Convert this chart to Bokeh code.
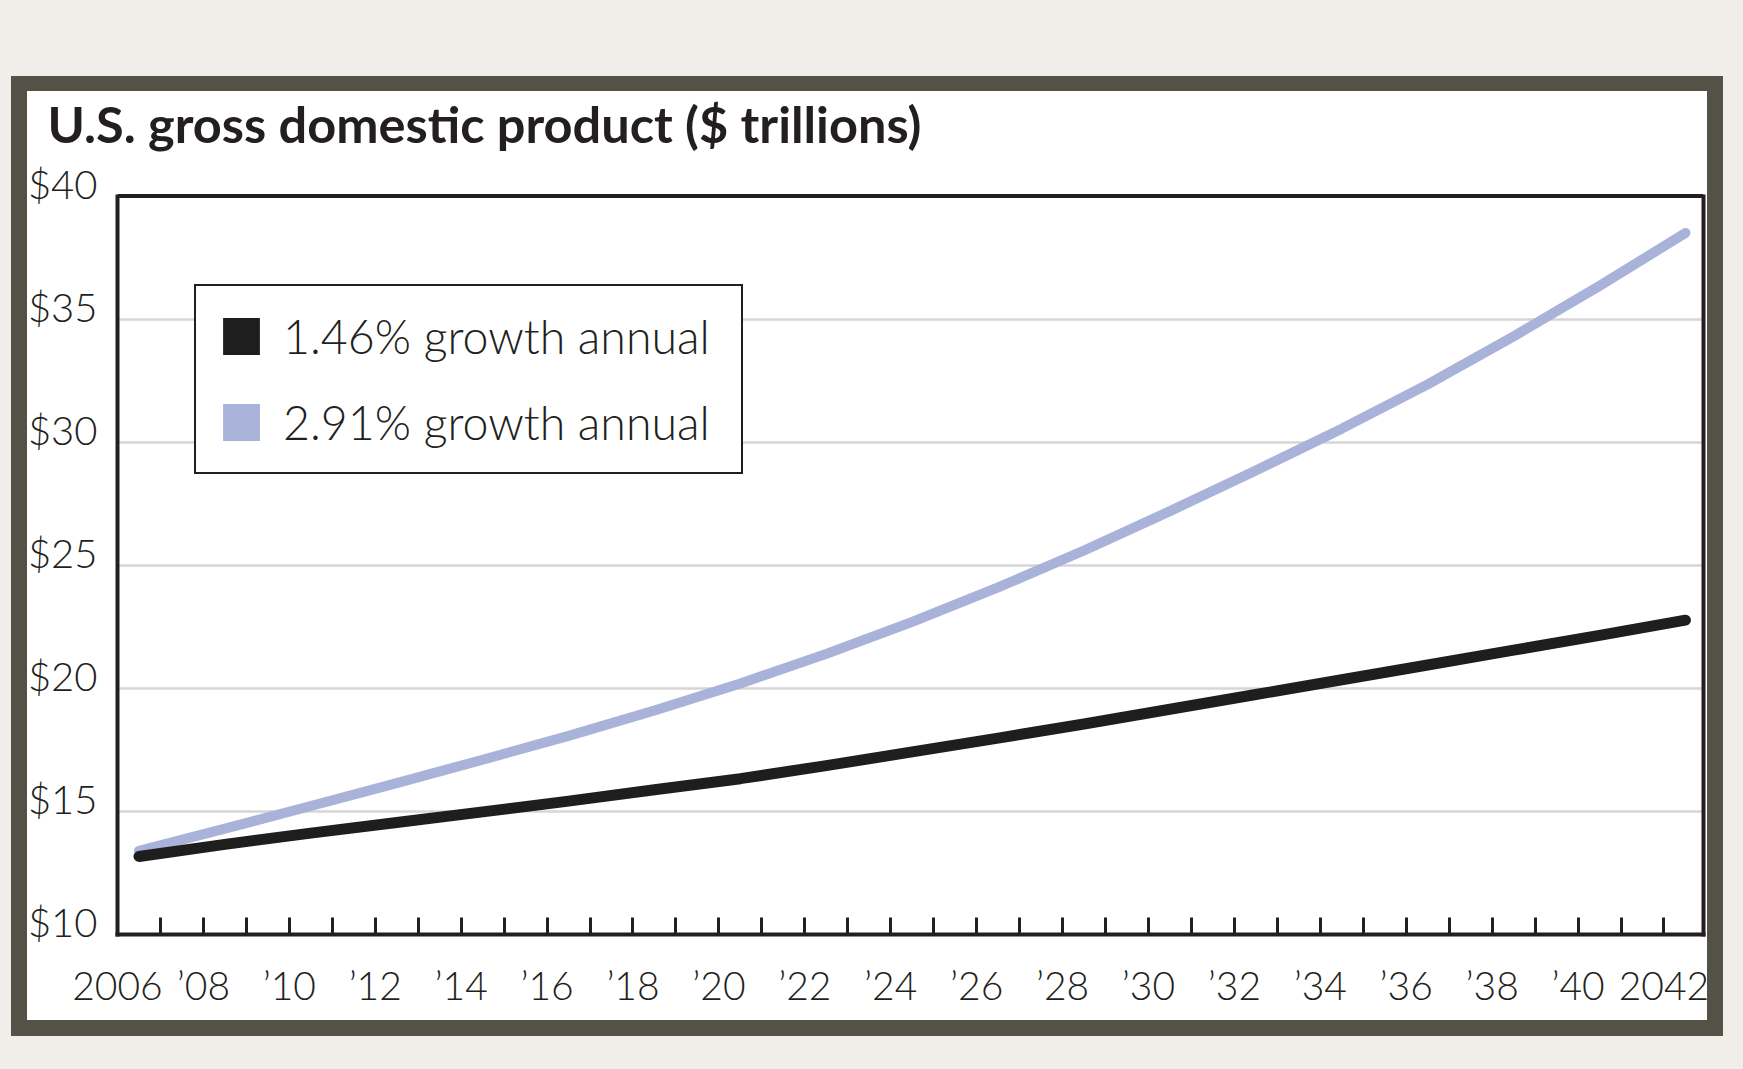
from bokeh.plotting import figure
from bokeh.models import (Range1d, LinearAxis, FixedTicker, CustomJSTickFormatter,
                          PrintfTickFormatter, Span, Legend, LegendItem)
from bokeh.embed import file_html
from bokeh.resources import INLINE

# ---------------- data ----------------
years = [2006, 2008, 2010, 2012, 2014, 2016, 2018, 2020, 2022, 2024,
         2026, 2028, 2030, 2032, 2034, 2036, 2038, 2040, 2042]
gdp_146 = [13.17, 13.66, 14.12, 14.55, 14.98, 15.42, 15.88, 16.33, 16.86, 17.42,
           17.98, 18.55, 19.15, 19.75, 20.35, 20.95, 21.55, 22.15, 22.77]
gdp_291 = [13.40, 14.30, 15.22, 16.15, 17.10, 18.07, 19.10, 20.20, 21.40, 22.70,
           24.10, 25.60, 27.20, 28.85, 30.55, 32.35, 34.30, 36.35, 38.50]
series_labels = ["1.46% growth annual", "2.91% growth annual"]
title_text = "U.S. gross domestic product ($ trillions)"

x_label_years = [2006, 2008, 2010, 2012, 2014, 2016, 2018, 2020, 2022, 2024,
                 2026, 2028, 2030, 2032, 2034, 2036, 2038, 2040, 2042]
x_tick_labels = ["2006", "\u201908", "\u201910", "\u201912", "\u201914", "\u201916",
                 "\u201918", "\u201920", "\u201922", "\u201924", "\u201926", "\u201928",
                 "\u201930", "\u201932", "\u201934", "\u201936", "\u201938", "\u201940", "2042"]
tick_years = list(range(2006, 2042))
y_tick_values = [10, 15, 20, 25, 30, 35, 40]
y_grid_values = [15, 20, 25, 30, 35]

# ---------------- style ----------------
TEXT = "#231f20"
BLACK_LINE = "#1e1e1e"
LAVENDER = "#a9b3da"
GRID = "#d6d6d6"
FRAME_DARK = "#545146"
PAGE_BG = "#f0eee9"
LIGHT_FONT = "Lato Light, Lato"

label_shift = 0.5   # y labels sit slightly above their grid lines
label_pos = [y - 0.5 for y in x_label_years]
tick_pos = [y + 0.5 for y in tick_years]

panel_bg = ("linear-gradient(#ffffff, #ffffff) 27px 91px / 1680px 929px no-repeat, "
            f"linear-gradient({FRAME_DARK}, {FRAME_DARK}) 11px 76px / 1712px 960px no-repeat, "
            f"{PAGE_BG}")

p = figure(width=1743, height=1069, output_backend="svg", toolbar_location=None,
           x_range=Range1d(2005.5, 2042.42), y_range=Range1d(10, 40.55),
           x_axis_location=None, y_axis_location=None,
           min_border_left=117, min_border_right=40, min_border_top=182, min_border_bottom=135,
           background_fill_color="white", border_fill_alpha=0.0,
           outline_line_color=None, styles={"background": panel_bg})

# grid
p.xgrid.grid_line_color = None
p.ygrid.ticker = FixedTicker(ticks=y_grid_values)
p.ygrid.grid_line_color = GRID
p.ygrid.grid_line_width = 2.5

# x axis
xaxis = LinearAxis(
    ticker=FixedTicker(ticks=label_pos, minor_ticks=tick_pos),
    formatter=CustomJSTickFormatter(args=dict(pos=label_pos, labels=x_tick_labels), code="""
        const i = pos.findIndex(v => Math.abs(v - tick) < 1e-6);
        return i >= 0 ? labels[i] : "";
    """),
    axis_line_color=TEXT, axis_line_width=4, axis_line_cap="square",
    major_tick_line_color=None, major_tick_in=0, major_tick_out=0,
    minor_tick_line_color=TEXT, minor_tick_line_width=3, minor_tick_in=17, minor_tick_out=0,
    major_label_standoff=27, major_label_text_font=LIGHT_FONT,
    major_label_text_font_size="39px", major_label_text_color=TEXT)
p.add_layout(xaxis, "below")

# y axis (labels on a shifted range so that they sit just above the lines)
p.extra_y_ranges = {"labels": Range1d(10 - label_shift, 40.55 - label_shift)}
yaxis = LinearAxis(
    y_range_name="labels",
    ticker=FixedTicker(ticks=y_tick_values),
    formatter=PrintfTickFormatter(format="$%d"),
    bounds=(10 - label_shift, 40 - label_shift),
    axis_line_color=TEXT, axis_line_width=4, axis_line_cap="square",
    major_tick_line_color=None, major_tick_in=0, major_tick_out=0,
    minor_tick_line_color=None,
    major_label_standoff=20, major_label_text_font=LIGHT_FONT,
    major_label_text_font_size="40px", major_label_text_color=TEXT)
p.add_layout(yaxis, "left")

raxis = LinearAxis(ticker=FixedTicker(ticks=[]), bounds=(10, 40),
                   axis_line_color=TEXT, axis_line_width=4, axis_line_cap="square",
                   major_tick_line_color=None, minor_tick_line_color=None,
                   major_label_text_font_size="0px")
p.add_layout(raxis, "right")

p.add_layout(Span(location=40, dimension="width", line_color=TEXT, line_width=4))

# series
p.line(years, gdp_291, line_color=LAVENDER, line_width=10, line_cap="round", line_join="round")
p.line(years, gdp_146, line_color=BLACK_LINE, line_width=11, line_cap="round", line_join="round")

# legend swatches (zero-area quads at the first data point; only their legend glyph shows)
q1 = p.quad(left=[years[0]], right=[years[0]], top=[gdp_146[0]], bottom=[gdp_146[0]],
            fill_color=BLACK_LINE, line_color=None)
q2 = p.quad(left=[years[0]], right=[years[0]], top=[gdp_291[0]], bottom=[gdp_291[0]],
            fill_color=LAVENDER, line_color=None)
legend = Legend(items=[LegendItem(label=series_labels[0], renderers=[q1]),
                       LegendItem(label=series_labels[1], renderers=[q2])],
                location=(77, 460), orientation="vertical",
                border_line_color=TEXT, border_line_width=2.5, border_line_alpha=1.0,
                background_fill_color="white", background_fill_alpha=1.0,
                padding=22, spacing=30, margin=0,
                glyph_width=46, glyph_height=46, label_standoff=19, label_width=436,
                label_text_font=LIGHT_FONT, label_text_font_size="46.5px",
                label_text_color=TEXT)
p.add_layout(legend)

# title
p.title.text = title_text
p.title.text_font = "Lato"
p.title.text_font_style = "bold"
p.title.text_font_size = "50.5px"
p.title.text_color = TEXT
p.title.align = "left"
p.title.offset = -70
p.title.standoff = 58

open("out.html", "w").write(file_html(p, INLINE))
